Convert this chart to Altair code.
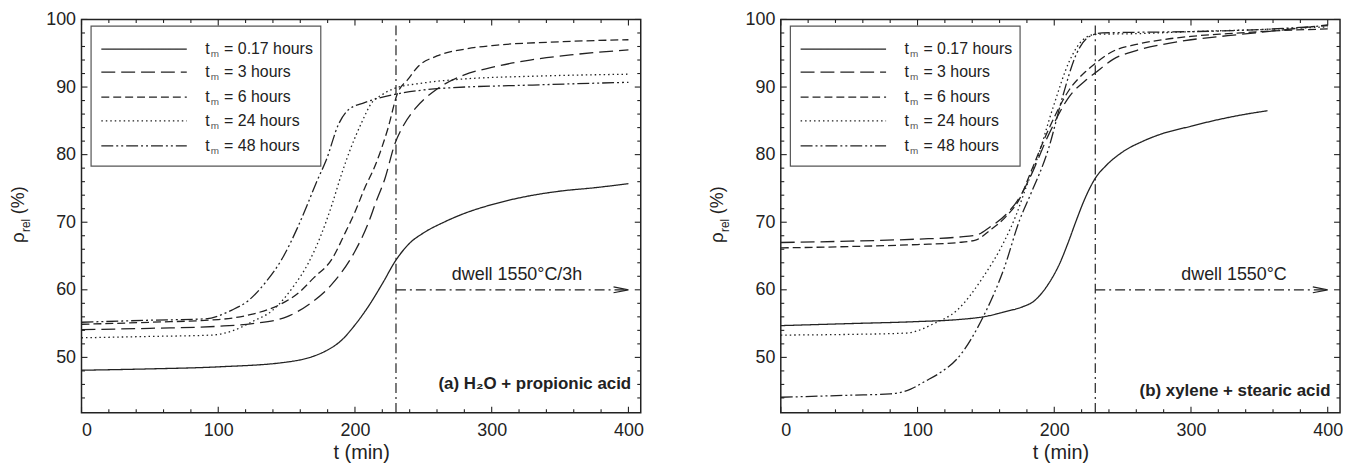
import altair as alt
import pandas as pd

# ---------------- data ----------------
series_keys = ["0.17", "3", "6", "24", "48"]
legend_texts = ["= 0.17 hours", "= 3 hours", "= 6 hours", "= 24 hours", "= 48 hours"]

# panel (a) H2O + propionic acid
a_t_017 = [0, 50, 100, 150, 170, 180, 190, 200, 210, 220, 230, 240, 250, 265, 280, 300, 325, 350, 375, 400]
a_r_017 = [48.1, 48.3, 48.6, 49.3, 50.2, 51.1, 52.5, 54.8, 57.6, 60.9, 64.4, 66.9, 68.4, 70.0, 71.3, 72.6, 73.8, 74.6, 75.1, 75.7]
a_t_3 = [0, 50, 100, 125, 150, 166, 183, 200, 210, 215, 222, 229, 236, 244, 260, 280, 300, 328, 360, 400]
a_r_3 = [54.1, 54.3, 54.6, 55.0, 56.0, 57.8, 60.8, 65.7, 70.0, 72.8, 76.5, 81.5, 84.5, 86.8, 89.7, 91.8, 92.9, 94.0, 94.8, 95.5]
a_t_6 = [0, 50, 100, 125, 145, 159, 170, 183, 193, 200, 207, 215, 224, 231, 239, 246, 260, 280, 304, 350, 400]
a_r_6 = [54.9, 55.2, 55.6, 56.4, 57.8, 59.6, 61.8, 64.5, 68.5, 71.5, 75.0, 78.5, 83.8, 89.0, 91.2, 93.0, 94.6, 95.6, 96.2, 96.7, 97.0]
a_t_24 = [0, 50, 95, 110, 125, 140, 155, 166, 175, 183, 190, 197, 205, 212, 220, 229, 250, 280, 330, 400]
a_r_24 = [52.9, 53.1, 53.3, 53.9, 55.3, 57.0, 60.5, 64.0, 68.0, 72.5, 77.0, 81.0, 84.8, 87.6, 88.9, 89.8, 90.6, 91.2, 91.6, 91.9]
a_t_48 = [0, 50, 90, 110, 122, 135, 147, 158, 165, 172, 179, 188, 195, 207, 229, 263, 330, 400]
a_r_48 = [55.2, 55.5, 55.7, 57.0, 58.4, 61.2, 64.7, 69.2, 72.5, 76.0, 79.2, 84.5, 86.6, 87.7, 88.9, 89.8, 90.3, 90.7]

# panel (b) xylene + stearic acid
b_t_017 = [0, 50, 100, 130, 148, 165, 177, 185, 192, 198, 204, 210, 216, 222, 230, 238, 250, 265, 279, 300, 316, 335, 356]
b_r_017 = [54.7, 55.0, 55.3, 55.6, 56.0, 56.8, 57.5, 58.3, 59.8, 61.6, 63.9, 66.9, 70.2, 73.3, 76.5, 78.4, 80.4, 82.0, 83.1, 84.2, 85.0, 85.8, 86.5]
b_t_3 = [0, 50, 100, 130, 143, 153, 165, 175, 182, 196, 211, 223, 230, 243, 260, 279, 300, 327, 360, 400]
b_r_3 = [67.0, 67.2, 67.5, 67.8, 68.1, 69.3, 71.2, 73.8, 76.5, 83.0, 88.6, 91.0, 92.1, 94.1, 95.4, 96.3, 97.0, 97.6, 98.3, 99.2]
b_t_6 = [0, 50, 100, 130, 143, 153, 165, 175, 182, 196, 211, 223, 230, 243, 260, 279, 300, 327, 360, 400]
b_r_6 = [66.2, 66.4, 66.7, 67.0, 67.4, 68.8, 70.9, 73.6, 77.0, 83.8, 89.6, 92.3, 93.5, 95.3, 96.3, 97.0, 97.5, 97.9, 98.3, 98.6]
b_t_24 = [0, 50, 92, 112, 129, 148, 163, 172, 180, 187, 199, 211, 221, 230, 260, 300, 350, 400]
b_r_24 = [53.3, 53.4, 53.6, 55.0, 57.0, 61.9, 67.0, 71.0, 75.5, 79.1, 86.9, 93.8, 97.0, 97.8, 97.9, 98.2, 98.5, 98.9]
b_t_48 = [0, 50, 80, 95, 105, 117, 129, 148, 163, 175, 182, 196, 206, 216, 225, 235, 260, 300, 350, 400]
b_r_48 = [44.1, 44.4, 44.6, 45.3, 46.4, 47.8, 49.8, 56.0, 63.0, 70.5, 73.8, 81.0, 88.5, 94.8, 97.4, 98.0, 98.1, 98.2, 98.5, 99.1]

x_major = [0, 100, 200, 300, 400]
x_minor = [20, 40, 60, 80, 120, 140, 160, 180, 220, 240, 260, 280, 320, 340, 360, 380]
y_major = [50, 60, 70, 80, 90, 100]
y_minor = [44, 46, 48, 52, 54, 56, 58, 62, 64, 66, 68, 72, 74, 76, 78, 82, 84, 86, 88, 92, 94, 96, 98]

dwell_t, dwell_rho, dwell_end = 230, 60, 400

# ---------------- styling ----------------
FONT = "Liberation Sans"
INK = "#222222"
W, H = 563, 396
XDOM = [0, 409]
YDOM = [41.8, 100]
DASHES = [[1, 0], [14, 6], [8, 4], [1.5, 3], [12, 3, 2, 3, 2, 3]]
LEG_ROWS = [95.6, 92.2, 88.5, 85.0, 81.3]
YT_X = -58

XS = alt.Scale(domain=XDOM, nice=False, zero=False)
YS = alt.Scale(domain=YDOM, nice=False, zero=False)
X_AXIS = alt.Axis(values=x_major, title="t (min)", ticks=False, domain=False, grid=False,
                  labelFontSize=18, titleFontSize=20, labelPadding=9, titlePadding=3,
                  titleFontWeight="normal", labelColor=INK, titleColor=INK,
                  labelFont=FONT, titleFont=FONT)
Y_AXIS = alt.Axis(values=y_major, title=None, ticks=False, domain=False, grid=False,
                  labelFontSize=18, labelPadding=6, labelColor=INK, labelFont=FONT)


def X(field):
    return alt.X(field, type="quantitative", scale=XS, axis=X_AXIS)


def Y(field):
    return alt.Y(field, type="quantitative", scale=YS, axis=Y_AXIS)


def make_panel(curves, tag, dwell_label, dwell_label_x, tag_y):
    rows = []
    for key, (ts, rs) in zip(series_keys, curves):
        for t, r in zip(ts, rs):
            rows.append({"t": t, "rho": r, "s": key})
    df = pd.DataFrame(rows)

    dash = alt.StrokeDash("s:N", scale=alt.Scale(domain=series_keys, range=DASHES), legend=None)

    lines = alt.Chart(df).mark_line(color=INK, strokeWidth=1.3, interpolate="monotone").encode(
        x=X("t"), y=Y("rho"), strokeDash=dash)

    vdf = pd.DataFrame({"t": [dwell_t], "rho": [YDOM[0]], "hi": [99.2]})
    vline = alt.Chart(vdf).mark_rule(color=INK, strokeWidth=1.2, strokeDash=[10, 4, 2, 4]).encode(
        x=X("t"), y=Y("rho"), y2="hi:Q")

    adf = pd.DataFrame({"t": [dwell_t], "t2": [dwell_end], "rho": [dwell_rho]})
    arrow = alt.Chart(adf).mark_rule(color=INK, strokeWidth=1.2, strokeDash=[10, 4, 2, 4]).encode(
        x=X("t"), x2="t2:Q", y=Y("rho"))
    hdf = pd.DataFrame({"t": [dwell_end], "rho": [dwell_rho]})
    head = alt.Chart(hdf).mark_point(shape="M-1,-0.2L0,0L-1,0.2", size=900, filled=False,
                                     stroke=INK, strokeWidth=1.2, opacity=1).encode(
        x=X("t"), y=Y("rho"))

    tdf = pd.DataFrame({"t": [dwell_label_x], "rho": [62.2], "txt": [dwell_label]})
    dwell_txt = alt.Chart(tdf).mark_text(font=FONT, fontSize=18, color=INK, align="center",
                                         baseline="middle").encode(
        x=X("t"), y=Y("rho"), text="txt:N")

    gdf = pd.DataFrame({"t": [402], "rho": [tag_y], "txt": [tag]})
    tag_txt = alt.Chart(gdf).mark_text(font=FONT, fontSize=17, fontWeight="bold", color=INK,
                                       align="right", baseline="middle").encode(
        x=X("t"), y=Y("rho"), text="txt:N")

    # legend (drawn inside the plot)
    bdf = pd.DataFrame({"t": [7], "t2": [175], "rho": [78.3], "rho2": [99.0]})
    box = alt.Chart(bdf).mark_rect(fill="white", stroke="#555555", strokeWidth=1.2).encode(
        x=X("t"), x2="t2:Q", y=Y("rho"), y2="rho2:Q")
    ldf = pd.DataFrame({"t": [14.5] * 5, "t2": [77] * 5, "rho": LEG_ROWS, "s": series_keys,
                        "lab": legend_texts, "tx": [90.5] * 5})
    leg_lines = alt.Chart(ldf).mark_rule(color=INK, strokeWidth=1.3).encode(
        x=X("t"), x2="t2:Q", y=Y("rho"), strokeDash=dash)
    leg_t = alt.Chart(ldf).mark_text(font=FONT, fontSize=16, color=INK, align="left",
                                     baseline="middle").encode(
        x=X("tx"), y=Y("rho"), text=alt.value("t"))
    leg_m = alt.Chart(ldf).mark_text(font=FONT, fontSize=10, color="#555555", align="left",
                                     baseline="middle", dx=5.5, dy=5).encode(
        x=X("tx"), y=Y("rho"), text=alt.value("m"))
    leg_lab = alt.Chart(ldf).mark_text(font=FONT, fontSize=16, color=INK, align="left",
                                       baseline="middle", dx=19).encode(
        x=X("tx"), y=Y("rho"), text="lab:N")

    # inward ticks on all four sides
    ym = pd.DataFrame({"rho": y_major})
    yn = pd.DataFrame({"rho": y_minor})
    xm = pd.DataFrame({"t": x_major})
    xn = pd.DataFrame({"t": x_minor})
    tk = dict(color=INK, strokeWidth=1.1)
    ticks = [
        alt.Chart(ym).mark_rule(**tk).encode(y=Y("rho"), x=alt.value(0), x2=alt.value(6)),
        alt.Chart(yn).mark_rule(**tk).encode(y=Y("rho"), x=alt.value(0), x2=alt.value(3.5)),
        alt.Chart(ym).mark_rule(**tk).encode(y=Y("rho"), x=alt.value(W - 6), x2=alt.value(W)),
        alt.Chart(yn).mark_rule(**tk).encode(y=Y("rho"), x=alt.value(W - 3.5), x2=alt.value(W)),
        alt.Chart(xm).mark_rule(**tk).encode(x=X("t"), y=alt.value(H - 6), y2=alt.value(H)),
        alt.Chart(xn).mark_rule(**tk).encode(x=X("t"), y=alt.value(H - 3.5), y2=alt.value(H)),
        alt.Chart(xm).mark_rule(**tk).encode(x=X("t"), y=alt.value(0), y2=alt.value(6)),
        alt.Chart(xn).mark_rule(**tk).encode(x=X("t"), y=alt.value(0), y2=alt.value(3.5)),
    ]

    # y-axis title  rho_rel (%)
    one = pd.DataFrame({"k": [0]})
    yt_rho = alt.Chart(one).mark_text(font=FONT, fontSize=19, color=INK, angle=270, align="left",
                                      baseline="alphabetic", dx=-27).encode(
        x=alt.value(YT_X), y=alt.value(H / 2), text=alt.value("ρ"))
    yt_rel = alt.Chart(one).mark_text(font=FONT, fontSize=12, color=INK, angle=270, align="left",
                                      baseline="alphabetic", dx=-16, dy=6).encode(
        x=alt.value(YT_X), y=alt.value(H / 2), text=alt.value("rel"))
    yt_pct = alt.Chart(one).mark_text(font=FONT, fontSize=18, color=INK, angle=270, align="left",
                                      baseline="alphabetic", dx=2).encode(
        x=alt.value(YT_X), y=alt.value(H / 2), text=alt.value("(%)"))

    layers = [lines, vline, arrow, head, dwell_txt, tag_txt, box, leg_lines, leg_t, leg_m, leg_lab,
              *ticks, yt_rho, yt_rel, yt_pct]
    return alt.layer(*layers).properties(width=W, height=H)


panel_a = make_panel(
    [(a_t_017, a_r_017), (a_t_3, a_r_3), (a_t_6, a_r_6), (a_t_24, a_r_24), (a_t_48, a_r_48)],
    "(a) H₂O + propionic acid", "dwell 1550°C/3h", 318.5, 46.0)
panel_b = make_panel(
    [(b_t_017, b_r_017), (b_t_3, b_r_3), (b_t_6, b_r_6), (b_t_24, b_r_24), (b_t_48, b_r_48)],
    "(b) xylene + stearic acid", "dwell 1550°C", 331.5, 45.0)

chart = alt.hconcat(panel_a, panel_b, spacing=63).properties(
    padding={"left": 0, "top": 0, "right": 0, "bottom": 0},
    background="white",
).configure_view(stroke=INK, strokeWidth=1.5).configure_text(font=FONT)

chart.save("out.html", embed_options={"renderer": "svg", "actions": False})
